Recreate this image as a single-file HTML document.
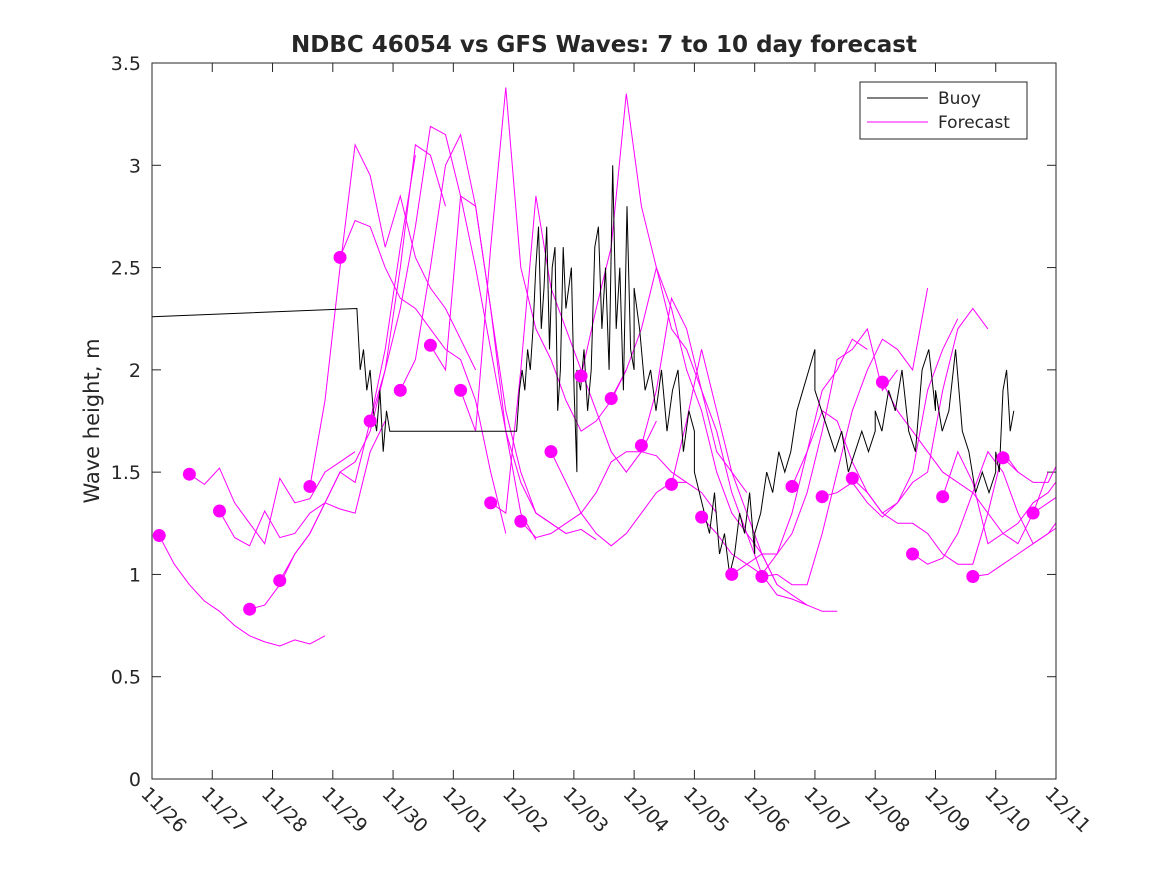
<!DOCTYPE html>
<html><head><meta charset="utf-8"><style>
body{margin:0;background:#fff;}
svg text{font-family:"DejaVu Sans","Liberation Sans",sans-serif;fill:#262626;}
</style></head><body>
<svg id="chart" width="1167" height="875" xmlns="http://www.w3.org/2000/svg">
<rect width="1167" height="875" fill="#fff"/>
<text x="604" y="52" text-anchor="middle" font-size="23" font-weight="bold" fill="#000">NDBC 46054 vs GFS Waves: 7 to 10 day forecast</text>
<text transform="translate(99,421) rotate(-90)" text-anchor="middle" font-size="21">Wave height, m</text>
<defs><clipPath id="pc"><rect x="152" y="63" width="904" height="716"/></clipPath></defs>
<g id="ticks"></g>
<g id="marks" clip-path="url(#pc)"></g>
<g id="dots"></g>
<rect x="152" y="63" width="904" height="716" fill="none" stroke="#262626" stroke-width="1"/>
<g>
<rect x="860" y="82" width="167" height="57" fill="#fff" stroke="#262626"/>
<line x1="867" y1="98" x2="928" y2="98" stroke="#000"/>
<text x="938" y="104" font-size="17">Buoy</text>
<line x1="867" y1="122" x2="928" y2="122" stroke="#f0f"/>
<text x="938" y="128" font-size="17">Forecast</text>
</g>
</svg>
<script>
const xLabels=["11/26","11/27","11/28","11/29","11/30","12/01","12/02","12/03","12/04","12/05","12/06","12/07","12/08","12/09","12/10","12/11"];
const yTicks=[0,0.5,1,1.5,2,2.5,3,3.5];
const buoySegments=[
 {t0:0,t1:3.4,v:[2.26,2.30]},
 {t0:3.4,t1:4.0,v:[2.3,2.0,2.1,1.9,2.0,1.8,1.7,1.9,1.6,1.8,1.7,1.7]},
 {t0:4.0,t1:6.05,v:[1.7,1.7]},
 {t0:6.05,t1:7.05,v:[1.7,1.9,2.0,1.9,2.1,2.0,2.2,2.5,2.7,2.2,2.4,2.7,2.1,2.5,2.6,1.8,2.0,2.6,2.3,2.4,2.5,1.9,1.5]},
 {t0:7.05,t1:8.0,v:[2.0,1.9,2.1,1.8,2.0,2.6,2.7,2.2,2.5,2.0,3.0,2.2,2.5,1.9,2.8,2.1,2.0]},
 {t0:8.0,t1:9.0,v:[2.4,2.2,1.9,2.0,1.8,2.0,1.7,1.9,2.0,1.6,1.8,1.7]},
 {t0:9.0,t1:10.0,v:[1.5,1.4,1.3,1.2,1.4,1.1,1.2,1.0,1.1,1.3,1.2,1.4,1.1]},
 {t0:10.0,t1:11.0,v:[1.2,1.3,1.5,1.4,1.6,1.5,1.6,1.8,1.9,2.0,2.1]},
 {t0:11.0,t1:12.0,v:[1.9,1.8,1.7,1.6,1.7,1.5,1.6,1.7,1.6,1.7]},
 {t0:12.0,t1:13.0,v:[1.8,1.7,1.9,1.8,2.0,1.7,1.6,2.0,2.1,1.8]},
 {t0:13.0,t1:14.0,v:[1.9,1.7,1.8,2.1,1.7,1.6,1.4,1.5,1.4,1.5]},
 {t0:14.0,t1:14.3,v:[1.6,1.5,1.9,2.0,1.7,1.8]}
];
const fcStart=0.12, fcInterval=0.5, fcStep=0.25;
const forecasts=[
 [1.19,1.05,0.95,0.87,0.82,0.75,0.70,0.67,0.65,0.68,0.66,0.70],
 [1.49,1.44,1.52,1.35,1.25,1.15,1.47,1.35,1.37,1.50,1.55,1.60],
 [1.31,1.18,1.14,1.31,1.18,1.20,1.30,1.35,1.32,1.30,1.60,1.75],
 [0.83,0.85,0.95,1.10,1.20,1.35,1.50,1.45,1.75,2.10,2.60,3.05],
 [0.97,1.10,1.20,1.35,1.50,1.55,1.70,2.00,2.50,3.10,3.05,2.80],
 [1.43,1.85,2.50,3.10,2.95,2.60,2.85,2.55,2.40,2.30,2.15,2.00],
 [2.55,2.73,2.70,2.50,2.35,2.30,2.20,2.10,2.05,1.85,1.50,1.20],
 [1.75,2.00,2.30,2.70,3.19,3.15,2.85,2.50,2.10,1.70,1.30,1.17],
 [1.90,2.05,2.50,3.00,3.15,2.80,2.30,1.80,1.50,1.30,1.25,1.20],
 [2.12,2.00,2.85,2.80,2.30,1.70,1.45,1.30,1.25,1.20,1.22,1.17],
 [1.90,1.70,2.60,3.38,2.50,2.20,2.05,1.85,1.70,1.75,1.85,2.00],
 [1.35,1.30,2.00,2.85,2.40,2.20,2.00,1.80,1.60,1.50,1.60,1.75],
 [1.26,1.18,1.20,1.25,1.30,1.40,1.55,1.60,1.60,1.58,1.50,1.45],
 [1.60,1.45,1.30,1.20,1.14,1.20,1.30,1.40,1.45,1.45,1.40,1.30],
 [1.97,2.30,2.60,3.35,2.80,2.50,2.20,2.10,1.90,1.60,1.50,1.40],
 [1.86,2.00,2.20,2.50,2.30,2.00,1.80,1.50,1.30,1.20,1.10,0.95],
 [1.63,1.90,2.35,2.20,1.90,1.70,1.40,1.20,1.00,0.90,0.88,0.85],
 [1.44,1.75,2.10,1.80,1.50,1.30,1.10,0.95,0.90,0.85,0.82,0.82],
 [1.28,1.20,1.10,1.05,1.00,1.10,1.30,1.60,1.90,2.00,2.15,2.10],
 [1.00,1.05,1.10,1.10,1.20,1.40,1.70,2.05,2.10,2.20,1.90,2.00],
 [0.99,1.00,0.95,0.95,1.20,1.50,1.80,2.00,2.15,2.10,2.00,2.40],
 [1.43,1.60,1.80,1.75,1.55,1.40,1.30,1.35,1.50,1.90,2.10,2.25],
 [1.38,1.40,1.45,1.35,1.28,1.35,1.45,1.50,1.90,2.20,2.30,2.20],
 [1.47,1.40,1.30,1.25,1.25,1.20,1.10,1.05,1.05,1.30,1.60,1.50],
 [1.94,1.80,1.70,1.60,1.50,1.45,1.40,1.30,1.20,1.15,1.30,1.50],
 [1.10,1.05,1.08,1.20,1.40,1.60,1.50,1.30,1.15,1.20,1.25,1.40],
 [1.38,1.60,1.45,1.15,1.20,1.25,1.35,1.40,1.50,1.45,1.55,1.90],
 [0.99,1.00,1.05,1.10,1.15,1.20,1.30,1.50,1.60,1.80,1.90,2.00],
 [1.57,1.50,1.45,1.45,1.60,1.80,2.00,2.15,2.30,2.40],
 [1.30,1.35,1.40,1.50,1.60]
];
const NS="http://www.w3.org/2000/svg";
const X0=152,X1=1056,Y0=779,Y1=63;
const xs=d=>X0+d*(X1-X0)/15;
const ys=v=>Y0-v*(Y0-Y1)/3.5;
function mk(tag,parent,attrs){const e=document.createElementNS(NS,tag);for(const k in attrs)e.setAttribute(k,attrs[k]);parent.appendChild(e);return e;}
const tk=document.getElementById('ticks'),mg=document.getElementById('marks'),dg=document.getElementById('dots');
yTicks.forEach(v=>{
 const y=ys(v);
 const l=mk('line',tk,{x1:X0,x2:X0+9,y1:y,y2:y,stroke:'#262626'});
 
 
 const r=mk('line',tk,{x1:X1-9,x2:X1,y1:y,y2:y,stroke:'#262626'});
 
 
 const t=mk('text',tk,{x:X0-11,y:y+7,'text-anchor':'end','font-size':19});
 t.textContent=String(v);
 
 
});
xLabels.forEach((s,i)=>{
 const x=xs(i);
 const l=mk('line',tk,{x1:x,x2:x,y1:Y0,y2:Y0-9,stroke:'#262626'});
 
 
 const u=mk('line',tk,{x1:x,x2:x,y1:Y1,y2:Y1+9,stroke:'#262626'});
 
 
 const t=mk('text',tk,{transform:`translate(${x-12},${Y0+16}) rotate(45)`,'font-size':19});
 t.textContent=s;
 
 
});
forecasts.forEach((arr,i)=>{
 const t0=fcStart+i*fcInterval;
 const pts=arr.map((v,j)=>xs(t0+j*fcStep).toFixed(1)+','+ys(v).toFixed(1)).join(' ');
 const p=mk('polyline',mg,{points:pts,fill:'none',stroke:'#ff00ff','stroke-width':1});
 
 
});
let bp=[];
buoySegments.forEach(sg=>{const n=sg.v.length;sg.v.forEach((v,j)=>bp.push(xs(sg.t0+(n>1?j*(sg.t1-sg.t0)/(n-1):0)).toFixed(1)+','+ys(v).toFixed(1)));});
const b=mk('polyline',mg,{points:bp.join(' '),fill:'none',stroke:'#000','stroke-width':1});


forecasts.forEach((arr,i)=>{
 const c=mk('circle',dg,{cx:xs(fcStart+i*fcInterval),cy:ys(arr[0]),r:6.5,fill:'#ff00ff'});
 
 
});
</script>
</body></html>
